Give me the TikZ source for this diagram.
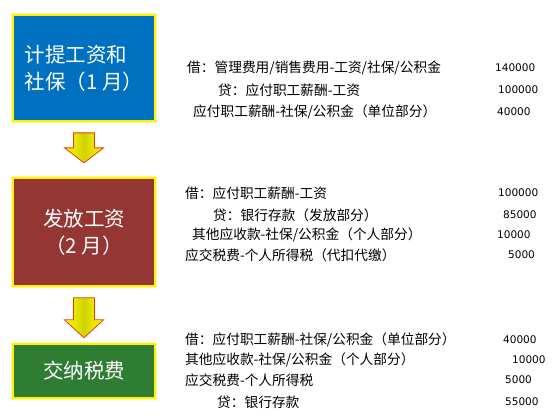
\documentclass[tikz,border=0pt]{standalone}
\usepackage{fontspec}
\setmainfont{Noto Sans CJK SC}
\newfontfamily\numfont{DejaVu Sans}
\usetikzlibrary{calc}
\definecolor{accrueblue}{RGB}{0,112,192}
\definecolor{payred}{RGB}{148,54,52}
\definecolor{taxgreen}{RGB}{47,125,50}
\definecolor{arrowred}{RGB}{230,60,20}

\begin{document}
\begin{tikzpicture}[x=1pt, y=-1pt,
  stage/.style={draw=yellow, line width=2pt, preaction={draw=yellow!35, line width=4pt}, text=white, minimum width=142pt, font=\fontsize{20.5}{27}\selectfont},
  entry/.style={anchor=west, inner sep=0pt, font=\fontsize{13.7}{16}\selectfont},
  amount/.style={anchor=west, inner sep=0pt, font=\numfont\fontsize{10.5}{12}\selectfont},
  block/.style={draw=arrowred, line width=0.8pt, left color=yellow, right color=yellow, middle color=yellow!82!black}]
\fill[white] (0,0) rectangle (554,415);
\useasboundingbox (0,0) rectangle (554,415);
% stages
\node[stage, fill=accrueblue, minimum height=106pt, align=left] (accrue) at (84,68) {计提工资和\\社保（1\hspace{5pt}月）};
\node[stage, fill=payred, minimum height=108pt, align=center] (pay) at (84,232) {发放工资\\（2\hspace{5pt}月）};
\node[stage, fill=taxgreen, minimum height=54pt] (tax) at (84,371) {交纳税费};
% arrows between stages
\foreach \a/\b/\f/\len/\head in {accrue/pay/0.47/30/15, pay/tax/0.55/40/18}
  \draw[block] ($(\a.south)!\f!(\b.north)$) ++(-10.5,-\len/2) -- ++(21,0) -- ++(0,\len-\head) -- ++(9,0)
    -- ++(-19.5,\head) -- ++(-19.5,-\head) -- ++(9,0) -- cycle;
% entries, January
\node[entry] (d1) at (187,68) {借：管理费用/销售费用-工资/社保/公积金};
\node[entry] (c1) at (218,90) {贷：应付职工薪酬-工资};
\node[entry] (c1b) at (193,112) {应付职工薪酬-社保/公积金（单位部分）};
\node[amount] (n1) at (495,68) {140000};
\node[amount] (n2) at (498,90) {100000};
\node[amount] (n3) at (497,112) {40000};
% entries, February
\node[entry] (d2) at (185,193) {借：应付职工薪酬-工资};
\node[entry] (c2) at (213,215) {贷：银行存款（发放部分）};
\node[entry] (c2b) at (192,235) {其他应收款-社保/公积金（个人部分）};
\node[entry] (c2c) at (185,255) {应交税费-个人所得税（代扣代缴）};
\node[amount] (n4) at (498,193) {100000};
\node[amount] (n5) at (503,215) {85000};
\node[amount] (n6) at (497,235) {10000};
\node[amount] (n7) at (508,255) {5000};
% entries, payment
\node[entry] (d3) at (185,340) {借：应付职工薪酬-社保/公积金（单位部分）};
\node[entry] (d3b) at (185,360) {其他应收款-社保/公积金（个人部分）};
\node[entry] (d3c) at (185,380) {应交税费-个人所得税};
\node[entry] (c3) at (217,402) {贷：银行存款};
\node[amount] (n8) at (503,340) {40000};
\node[amount] (n9) at (512,360) {10000};
\node[amount] (n10) at (505,380) {5000};
\node[amount] (n11) at (505,402) {55000};
\end{tikzpicture}
\end{document}
